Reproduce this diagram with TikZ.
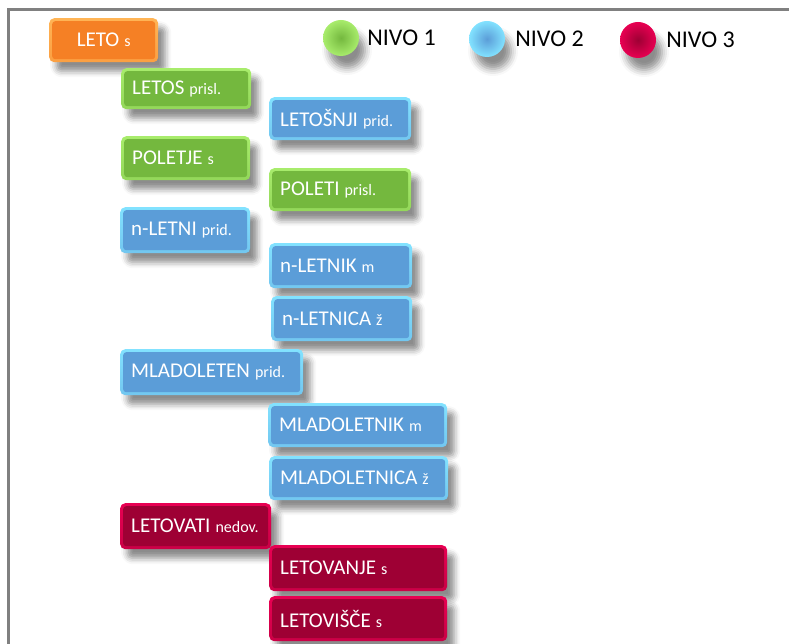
\documentclass[tikz,border=0pt]{standalone}
\usepackage{fontspec}
\setmainfont{Carlito}
\usetikzlibrary{positioning,calc,shadows.blur}
\definecolor{okvirgray}{RGB}{128,128,128}
\definecolor{korenorange}{RGB}{245,128,37}
\definecolor{korenedge}{RGB}{255,180,85}
\definecolor{nivogreen}{RGB}{116,184,62}
\definecolor{nivogreenedge}{RGB}{168,236,108}
\definecolor{nivoblue}{RGB}{91,157,216}
\definecolor{nivoblueedge}{RGB}{130,226,255}
\definecolor{nivored}{RGB}{158,0,52}
\definecolor{nivorededge}{RGB}{232,0,82}
\newcommand{\beseda}[2]{\mbox{#1\hspace{5pt}{\fontsize{16}{18}\selectfont #2}}}
\tikzset{
  senca/.style={blur shadow={shadow xshift=7pt, shadow yshift=-9pt, shadow blur radius=6pt, shadow opacity=45}},
  box/.style={anchor=north west, rounded corners=5pt, text=white,
    inner xsep=11pt, inner ysep=2pt, align=left, font=\fontsize{21}{24}\selectfont, senca},
  bevel/.style 2 args={box, top color=#2, bottom color=#2!60!#1,
    path picture={\fill[#1, rounded corners=3pt]
      ($(path picture bounding box.north west)+(3pt,-3pt)$) rectangle
      ($(path picture bounding box.south east)+(-3pt,3pt)$);}},
  koren/.style={bevel={korenorange}{korenedge}},
  prvinivo/.style={bevel={nivogreen}{nivogreenedge}},
  druginivo/.style={bevel={nivoblue}{nivoblueedge}},
  tretjinivo/.style={bevel={nivored}{nivorededge}},
  krog/.style={circle, minimum size=36pt, inner sep=0pt,
    blur shadow={shadow xshift=6pt, shadow yshift=-12pt, shadow blur radius=7pt, shadow opacity=45}},
  napis/.style={font=\fontsize{24}{28}\selectfont, inner sep=0pt}
}
\begin{document}
\begin{tikzpicture}[x=1pt,y=-1pt]
\useasboundingbox (0,0) rectangle (789,644);
\draw[draw=okvirgray,line width=3pt] (8,644) -- (8,10) -- (789,10);
% legenda
\node[krog, inner color=nivogreen, outer color=nivogreenedge] (krogena) at (341,38) {};
\node[napis, right=8pt of krogena] (napisena) {NIVO 1};
\node[krog, inner color=nivoblue, outer color=nivoblueedge] (krogdva) at (487,39) {};
\node[napis, right=10pt of krogdva] (napisdva) {NIVO 2};
\node[krog, inner color=nivored, outer color=nivorededge] (krogtri) at (638,40) {};
\node[napis, right=10pt of krogtri] (napistri) {NIVO 3};
% besede
\node[koren, minimum width=109pt, minimum height=44pt, align=center] (leto) at (49,18) {\beseda{LETO}{s}};
\node[prvinivo, text width=108pt, minimum height=41pt] (letos) at (121,68) {\beseda{LETOS}{prisl.}};
\node[druginivo, text width=120pt, minimum height=43pt] (letosnji) at (269,97) {\beseda{LETOŠNJI}{prid.}};
\node[prvinivo, text width=107pt, minimum height=44pt] (poletje) at (121,136) {\beseda{POLETJE}{s}};
\node[prvinivo, text width=120pt, minimum height=43pt] (poleti) at (269,168) {\beseda{POLETI}{prisl.}};
\node[druginivo, text width=108pt, minimum height=46pt] (nletni) at (120,207) {\beseda{n-LETNI}{prid.}};
\node[druginivo, text width=121pt, minimum height=45pt] (nletnik) at (269,243) {\beseda{n-LETNIK}{m}};
\node[druginivo, text width=119pt, minimum height=45pt] (nletnica) at (271,296) {\beseda{n-LETNICA}{ž}};
\node[druginivo, text width=161pt, minimum height=46pt] (mladoleten) at (120,349) {\beseda{MLADOLETEN}{prid.}};
\node[druginivo, text width=157pt, minimum height=44pt] (mladoletnik) at (268,403) {\beseda{MLADOLETNIK}{m}};
\node[druginivo, text width=157pt, minimum height=44pt] (mladoletnica) at (269,456) {\beseda{MLADOLETNICA}{ž}};
\node[tretjinivo, text width=129pt, minimum height=46pt] (letovati) at (120,503) {\beseda{LETOVATI}{nedov.}};
\node[tretjinivo, text width=156pt, minimum height=46pt] (letovanje) at (269,545) {\beseda{LETOVANJE}{s}};
\node[tretjinivo, text width=156pt, minimum height=45pt] (letovisce) at (269,596) {\beseda{LETOVIŠČE}{s}};
\end{tikzpicture}
\end{document}
